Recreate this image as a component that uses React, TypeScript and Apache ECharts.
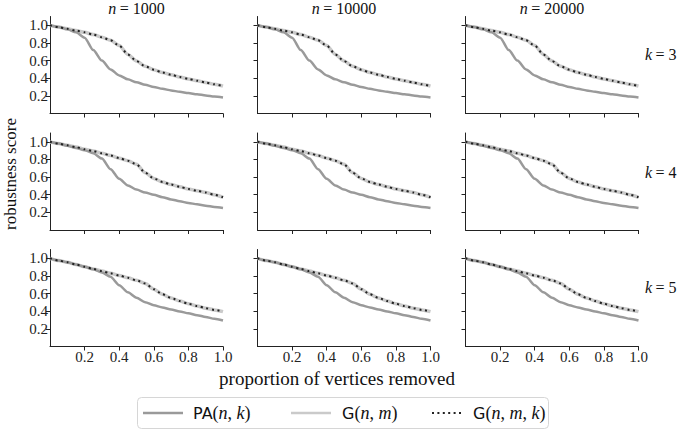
import React, { useEffect, useRef } from "react";
import * as echarts from "echarts";

const X = [0, 0.05, 0.1, 0.15, 0.2, 0.25, 0.3, 0.35, 0.4, 0.45, 0.5, 0.55, 0.6, 0.65, 0.7, 0.75, 0.8, 0.85, 0.9, 0.95, 1.0];

const PA_K3 = [1.0, 0.98, 0.955, 0.92, 0.86, 0.72, 0.6, 0.5, 0.432, 0.387, 0.355, 0.326, 0.301, 0.28, 0.262, 0.246, 0.232, 0.218, 0.205, 0.193, 0.182];
const G_K3 = [1.0, 0.98, 0.96, 0.94, 0.92, 0.895, 0.865, 0.83, 0.77, 0.67, 0.595, 0.535, 0.497, 0.465, 0.44, 0.414, 0.392, 0.372, 0.352, 0.331, 0.31];
const GMK_K3 = [1.0, 0.98, 0.96, 0.94, 0.92, 0.895, 0.865, 0.83, 0.77, 0.67, 0.595, 0.535, 0.497, 0.465, 0.44, 0.414, 0.392, 0.372, 0.352, 0.331, 0.31];

const PA_K4 = [1.0, 0.98, 0.955, 0.93, 0.905, 0.87, 0.81, 0.69, 0.58, 0.505, 0.458, 0.425, 0.4, 0.372, 0.347, 0.326, 0.307, 0.291, 0.276, 0.262, 0.25];
const G_K4 = [1.0, 0.98, 0.96, 0.94, 0.915, 0.895, 0.87, 0.845, 0.815, 0.785, 0.745, 0.65, 0.585, 0.545, 0.515, 0.49, 0.465, 0.445, 0.425, 0.4, 0.37];
const GMK_K4 = [1.0, 0.98, 0.96, 0.94, 0.915, 0.895, 0.87, 0.845, 0.815, 0.785, 0.745, 0.65, 0.585, 0.545, 0.515, 0.49, 0.465, 0.445, 0.425, 0.4, 0.37];

const PA_K5 = [1.0, 0.975, 0.955, 0.93, 0.905, 0.875, 0.84, 0.79, 0.695, 0.615, 0.553, 0.503, 0.467, 0.443, 0.42, 0.398, 0.376, 0.355, 0.335, 0.315, 0.295];
const G_K5 = [1.0, 0.975, 0.955, 0.93, 0.905, 0.88, 0.855, 0.83, 0.805, 0.78, 0.75, 0.715, 0.65, 0.592, 0.55, 0.515, 0.485, 0.46, 0.435, 0.415, 0.395];
const GMK_K5 = [1.0, 0.975, 0.955, 0.93, 0.905, 0.88, 0.855, 0.83, 0.805, 0.78, 0.75, 0.715, 0.65, 0.592, 0.55, 0.515, 0.485, 0.46, 0.435, 0.415, 0.395];

const N_LABELS = ["1000", "10000", "20000"];
const K_LABELS = ["3", "4", "5"];
const TICKS = [0.2, 0.4, 0.6, 0.8, 1.0];

const ROWS = [
  { pa: PA_K3, g: G_K3, gmk: GMK_K3 },
  { pa: PA_K4, g: G_K4, gmk: GMK_K4 },
  { pa: PA_K5, g: G_K5, gmk: GMK_K5 },
];

const SERIF = "Liberation Serif, serif";
const SANS = "DejaVu Sans, sans-serif";

const COL_LEFT = [50, 257.5, 465.5];
const COL_W = 173;
const ROW_TOP = [16.5, 133, 249.5];
const ROW_H = 97;

const tickFmt = (v: number) => (v > 0.05 && v < 1.05 ? v.toFixed(1) : "");

export default function App() {
  const ref = useRef<HTMLDivElement>(null);
  useEffect(() => {
    if (!ref.current) return;
    const chart = echarts.init(ref.current, undefined, { renderer: "svg" });
    const grids: any[] = [];
    const xAxes: any[] = [];
    const yAxes: any[] = [];
    const series: any[] = [];
    for (let r = 0; r < 3; r++) {
      for (let c = 0; c < 3; c++) {
        const idx = r * 3 + c;
        grids.push({ left: COL_LEFT[c], top: ROW_TOP[r], width: COL_W, height: ROW_H });
        xAxes.push({
          type: "value",
          gridIndex: idx,
          min: 0,
          max: 1,
          interval: 0.2,
          axisLine: { show: true, onZero: false, lineStyle: { color: "#222", width: 1 } },
          axisTick: { show: true, length: 4, customValues: TICKS, lineStyle: { color: "#222" } },
          axisLabel: {
            show: r === 2,
            formatter: tickFmt,
            fontFamily: SERIF,
            fontSize: 15,
            color: "#222",
            margin: 3,
          },
          splitLine: { show: false },
        });
        yAxes.push({
          type: "value",
          gridIndex: idx,
          min: 0,
          max: 1.1,
          interval: 0.2,
          axisLine: { show: true, onZero: false, lineStyle: { color: "#222", width: 1 } },
          axisTick: { show: true, length: 4, customValues: TICKS, lineStyle: { color: "#222" } },
          axisLabel: {
            show: c === 0,
            formatter: tickFmt,
            fontFamily: SERIF,
            fontSize: 15,
            color: "#222",
            margin: 2,
          },
          splitLine: { show: false },
        });
        const row = ROWS[r];
        const toData = (arr: number[]) => X.map((x, i) => [x, arr[i]]);
        series.push({
          type: "line",
          name: "G(n,m)",
          xAxisIndex: idx,
          yAxisIndex: idx,
          data: toData(row.g),
          symbol: "none",
          smooth: 0.25,
          smoothMonotone: "x",
          lineStyle: { color: "#cacaca", width: 3.5 },
        });
        series.push({
          type: "line",
          name: "PA(n,k)",
          xAxisIndex: idx,
          yAxisIndex: idx,
          data: toData(row.pa),
          symbol: "none",
          smooth: 0.25,
          smoothMonotone: "x",
          lineStyle: { color: "#9a9a9a", width: 2.5 },
        });
        series.push({
          type: "line",
          name: "G(n,m,k)",
          xAxisIndex: idx,
          yAxisIndex: idx,
          data: toData(row.gmk),
          symbol: "none",
          smooth: 0.25,
          smoothMonotone: "x",
          lineStyle: { color: "#222", width: 2, type: [2, 3.7], cap: "butt" },
        });
      }
    }

    const graphics: any[] = [];
    for (let c = 0; c < 3; c++) {
      graphics.push({
        type: "text",
        x: COL_LEFT[c] + COL_W / 2,
        y: 8,
        style: {
          text: "{i|n} {p|= " + N_LABELS[c] + "}",
          align: "center",
          verticalAlign: "middle",
          rich: {
            i: { fontStyle: "italic", fontFamily: SERIF, fontSize: 16, fill: "#111" },
            p: { fontFamily: SERIF, fontSize: 16, fill: "#111" },
          },
        },
      });
    }
    const kY = [54, 172, 287];
    for (let r = 0; r < 3; r++) {
      graphics.push({
        type: "text",
        x: 645,
        y: kY[r],
        style: {
          text: "{i|k} {p|= " + K_LABELS[r] + "}",
          align: "left",
          verticalAlign: "middle",
          rich: {
            i: { fontStyle: "italic", fontFamily: SERIF, fontSize: 16, fill: "#111" },
            p: { fontFamily: SERIF, fontSize: 16, fill: "#111" },
          },
        },
      });
    }
    graphics.push({
      type: "text",
      x: 10,
      y: 174,
      rotation: Math.PI / 2,
      style: {
        text: "robustness score",
        fontFamily: SERIF,
        fontSize: 17,
        fill: "#111",
        align: "center",
        verticalAlign: "middle",
      },
    });
    graphics.push({
      type: "text",
      x: 337,
      y: 378,
      style: {
        text: "proportion of vertices removed",
        fontFamily: SERIF,
        fontSize: 19,
        fill: "#111",
        align: "center",
        verticalAlign: "middle",
      },
    });
    // legend
    const LY = 413;
    graphics.push({
      type: "rect",
      shape: { x: 137.5, y: 397.5, width: 411, height: 31, r: 4 },
      style: { fill: "#fff", stroke: "#d6d6d6", lineWidth: 1 },
    });
    graphics.push({
      type: "line",
      shape: { x1: 143, y1: LY, x2: 183, y2: LY },
      style: { stroke: "#9a9a9a", lineWidth: 2.5 },
    });
    graphics.push({
      type: "line",
      shape: { x1: 291, y1: LY, x2: 331, y2: LY },
      style: { stroke: "#cacaca", lineWidth: 2.5 },
    });
    graphics.push({
      type: "line",
      shape: { x1: 432, y1: LY, x2: 462, y2: LY },
      style: { stroke: "#222", lineWidth: 2, lineDash: [2, 3.4] },
    });
    const legendText = (x: number, head: string, args: string[]) => {
      let t = "{s|" + head + "}{p|(}";
      args.forEach((a, i) => {
        if (i > 0) t += "{p|, }";
        t += "{i|" + a + "}";
      });
      t += "{p|)}";
      return {
        type: "text",
        x,
        y: LY,
        style: {
          text: t,
          align: "left",
          verticalAlign: "middle",
          rich: {
            s: { fontFamily: SANS, fontSize: 16, fill: "#111" },
            p: { fontFamily: SERIF, fontSize: 18, fill: "#111" },
            i: { fontFamily: SERIF, fontStyle: "italic", fontSize: 18, fill: "#111" },
          },
        },
      };
    };
    graphics.push(legendText(193, "PA", ["n", "k"]));
    graphics.push(legendText(342, "G", ["n", "m"]));
    graphics.push(legendText(473, "G", ["n", "m", "k"]));

    chart.setOption({
      animation: false,
      backgroundColor: "#fff",
      grid: grids,
      xAxis: xAxes,
      yAxis: yAxes,
      series,
      graphic: graphics,
    });
    return () => chart.dispose();
  }, []);
  return (
    <div
      ref={ref}
      style={{ position: "absolute", left: 0, top: 0, width: 685, height: 431, background: "#fff" }}
    />
  );
}
